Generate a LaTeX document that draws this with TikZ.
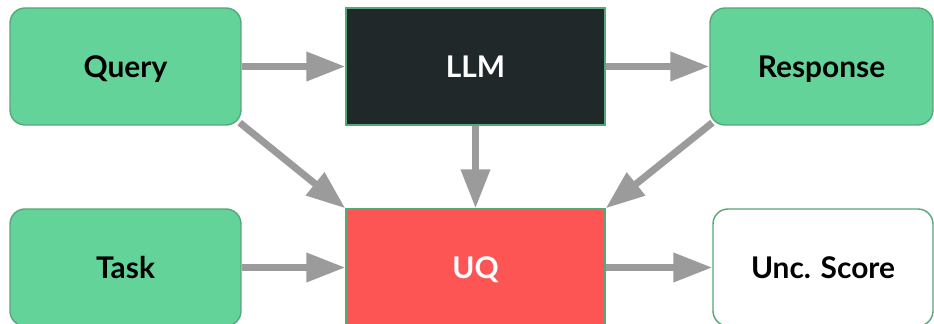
\documentclass[tikz,border=0pt]{standalone}
\usepackage{fontspec}
\setmainfont{Lato}
\usetikzlibrary{arrows.meta}
\definecolor{boxgreen}{HTML}{64D399}
\definecolor{edgegreen}{HTML}{55A878}
\definecolor{llmdark}{HTML}{212829}
\definecolor{uqred}{HTML}{FD5454}
\definecolor{arrowgray}{HTML}{9B9B9B}

\tikzset{
  box/.style={draw=edgegreen, line width=0.8pt, minimum height=2.34cm, text height=12pt, text depth=0pt, font=\fontsize{17}{20}\selectfont\bfseries},
  inbox/.style={box, fill=boxgreen, rounded corners=0.3cm, minimum width=4.62cm},
  flow/.style={draw=arrowgray, line width=0.14cm, -{Triangle[length=0.78cm, width=0.56cm]}}
}

\begin{document}
\begin{tikzpicture}[x=0.02cm, y=-0.02cm]
    \useasboundingbox[fill=white] (0,0) rectangle (934,324);

    \node[inbox] (query) at (125.5,66.5) {Query};
    \node[box, fill=llmdark, text=white, minimum width=5.18cm] (llm) at (475.5,66.5) {LLM};
    \node[inbox, minimum width=4.46cm] (response) at (821.5,66.5) {Response};

    \node[inbox] (task) at (125.5,267.5) {Task};
    \node[box, fill=uqred, text=white, minimum width=5.18cm] (uq) at (475.5,267.5) {UQ};
    \node[box, fill=white, rounded corners=0.3cm, minimum width=4.4cm] (score) at (823,267.5) {Unc. Score};

    \draw[flow] (query) -- (llm);
    \draw[flow] (llm) -- (response);
    \draw[flow] (task) -- (uq);
    \draw[flow] (uq) -- (score);
    \draw[flow] (llm) -- (uq);
    \draw[flow] ([shift={(-2,-3)}]query.south east) -- (uq.north west);
    \draw[flow] ([shift={(3,-3)}]response.south west) -- (uq.north east);
\end{tikzpicture}
\end{document}
